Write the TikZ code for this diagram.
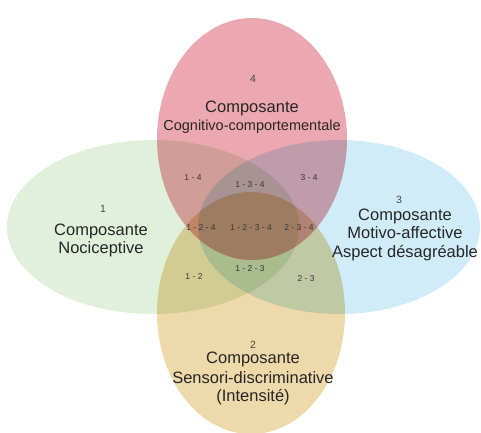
\documentclass[tikz,border=0pt]{standalone}
\usepackage{fontspec}
\setmainfont{Liberation Sans}
\definecolor{cgreen}{RGB}{225,240,219}
\definecolor{cblue}{RGB}{208,236,249}
\definecolor{cred}{RGB}{236,168,176}
\definecolor{cyellow}{RGB}{237,217,170}
\definecolor{numgray}{RGB}{70,70,70}
\definecolor{zonegray}{RGB}{60,55,55}
\begin{document}
\begin{tikzpicture}[x=1pt,y=-1pt,
  title/.style={anchor=base,inner sep=0pt,font=\fontsize{16.5}{19}\selectfont,text=black!85},
  subtitle/.style={anchor=base,inner sep=0pt,font=\fontsize{14.5}{17}\selectfont,text=black!85},
  idx/.style={anchor=base,inner sep=0pt,font=\fontsize{10.5}{12}\selectfont,text=numgray},
  zone/.style={inner sep=0pt,font=\fontsize{8.5}{10}\selectfont,text=zonegray}]
\useasboundingbox (0,0) rectangle (481,432);

% the four components, overlapping by multiplication of their tints
\begin{scope}[blend group=multiply]
  \fill[cgreen]  (153,227) ellipse [x radius=146, y radius=87];
  \fill[cblue]   (339,227) ellipse [x radius=141, y radius=87];
  \fill[cred]    (252,139) ellipse [x radius=95, y radius=121];
  \fill[cyellow] (251,313) ellipse [x radius=94, y radius=121];
\end{scope}

% component 4
\node[idx] (n4) at (253,82) {4};
\node[title] (c4a) at (252,112) {Composante};
\node[subtitle] (c4b) at (252,130) {Cognitivo-comportementale};

% component 1
\node[idx] (n1) at (103,212) {1};
\node[title] (c1a) at (101,235) {Composante};
\node[title] (c1b) at (101,253) {Nociceptive};

% component 3
\node[idx] (n3) at (399,203) {3};
\node[title] (c3a) at (405,220) {Composante};
\node[title] (c3b) at (405,238) {Motivo-affective};
\node[title] (c3c) at (405,257) {Aspect désagréable};

% component 2
\node[idx] (n2) at (253,348) {2};
\node[title] (c2a) at (253,363) {Composante};
\node[title] (c2b) at (253,383) {Sensori-discriminative};
\node[title] (c2c) at (253,401) {(Intensité)};

% intersections
\node[zone] (z14)   at (193,178) {1 - 4};
\node[zone] (z134)  at (250,185) {1 - 3 - 4};
\node[zone] (z34)   at (309,178) {3 - 4};
\node[zone] (z124)  at (201,228) {1 - 2 - 4};
\node[zone] (z1234) at (251,228) {1 - 2 - 3 - 4};
\node[zone] (z234)  at (299,228) {2 - 3 - 4};
\node[zone] (z12)   at (194,277) {1 - 2};
\node[zone] (z123)  at (250,269) {1 - 2 - 3};
\node[zone] (z23)   at (306,279) {2 - 3};
\end{tikzpicture}
\end{document}
